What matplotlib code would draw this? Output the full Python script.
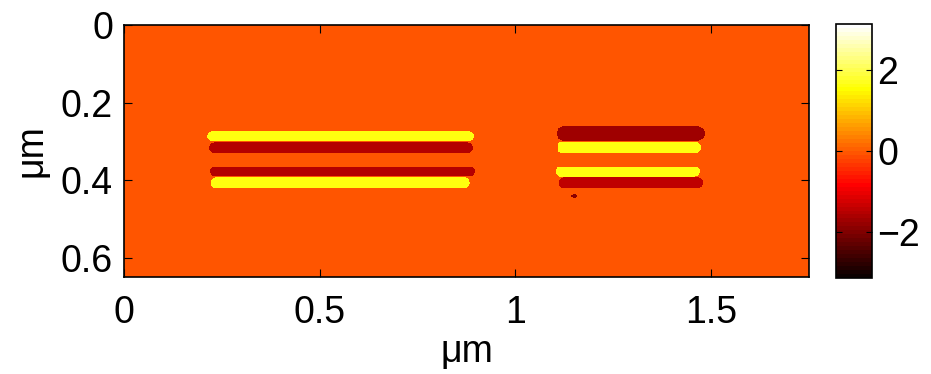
import numpy as np
import matplotlib
matplotlib.use('Agg')
import matplotlib.pyplot as plt
from matplotlib.colors import ListedColormap

plt.rcParams['font.family'] = ['Liberation Sans', 'DejaVu Sans']

# bars of the phase map (um): x start, x end, y centre, thickness, phase value
bar_x0 = [0.213, 0.218, 0.220, 0.222, 1.105, 1.107, 1.102, 1.112]
bar_x1 = [0.895, 0.892, 0.897, 0.884, 1.485, 1.475, 1.472, 1.480]
bar_y = [0.287, 0.317, 0.378, 0.407, 0.280, 0.316, 0.378, 0.407]
bar_w = [0.028, 0.027, 0.026, 0.028, 0.038, 0.029, 0.027, 0.028]
bar_val = [1.6, -1.5, -1.5, 1.6, -1.7, 1.6, 1.6, -1.4]
background_val = -0.05
speck_x, speck_y, speck_val = 1.151, 0.440, -1.9

x_max, y_max = 1.75, 0.65
res = 0.0025
xs = np.arange(0, x_max, res) + res / 2
ys = np.arange(0, y_max, res) + res / 2
X, Y = np.meshgrid(xs, ys)
phase = np.full_like(X, background_val)
for x0, x1, yc, w, v in zip(bar_x0, bar_x1, bar_y, bar_w, bar_val):
    r = w / 2
    cx = np.clip(X, x0 + r, x1 - r)
    d = np.hypot(X - cx, Y - yc)
    phase[d <= r] = v
phase[np.hypot((X - speck_x) / 2, Y - speck_y) < 0.004] = speck_val

# matlab-style hot colormap, 64 levels
n = 64
n1 = 24
r = np.concatenate([np.arange(1, n1 + 1) / n1, np.ones(n - n1)])
g = np.concatenate([np.zeros(n1), np.arange(1, n1 + 1) / n1, np.ones(n - 2 * n1)])
b = np.concatenate([np.zeros(2 * n1), np.arange(1, n - 2 * n1 + 1) / (n - 2 * n1)])
hot = ListedColormap(np.column_stack([r, g, b]))

fig = plt.figure(figsize=(9.31, 3.74), dpi=100)
ax = fig.add_axes([124 / 931, 1 - 277 / 374, 685 / 931, 252 / 374])
im = ax.imshow(phase, cmap=hot, vmin=-np.pi, vmax=np.pi, origin='upper',
               extent=[0, x_max, y_max, 0], aspect='auto', interpolation='nearest')
ax.set_xlim(0, x_max)
ax.set_ylim(y_max, 0)
ax.set_xticks([0, 0.5, 1, 1.5])
ax.set_xticklabels(['0', '0.5', '1', '1.5'])
ax.set_yticks([0, 0.2, 0.4, 0.6])
ax.set_yticklabels(['0', '0.2', '0.4', '0.6'])
ax.tick_params(direction='in', length=6, width=0.8, labelsize=27, top=True, right=True, pad=8)
ax.tick_params(axis='x', pad=13)
ax.set_xlabel('μm', fontsize=27, labelpad=2)
ax.set_ylabel('μm', fontsize=27, labelpad=8)
for s in ax.spines.values():
    s.set_linewidth(1.2)

cax = fig.add_axes([836 / 931, 1 - 278 / 374, 36 / 931, 254 / 374])
cb = fig.colorbar(im, cax=cax)
cb.set_ticks([-2, 0, 2])
cb.set_ticklabels(['−2', '0', '2'])
cax.tick_params(direction='in', length=4, width=0.8, labelsize=27, left=True, right=True, pad=4)
cb.outline.set_linewidth(1.2)

fig.savefig('out.png', dpi=100)
